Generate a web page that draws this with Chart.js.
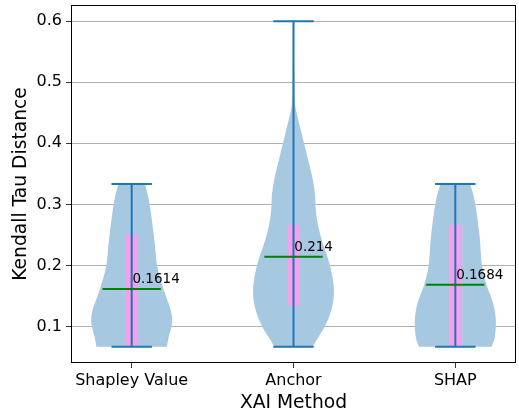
<!DOCTYPE html>
<html>
<head>
<meta charset="utf-8">
<script src="https://cdn.jsdelivr.net/npm/chart.js@4.4.1/dist/chart.umd.min.js"></script>
<style>
  html, body { margin:0; padding:0; background:#fff; }
  #wrap { width:519px; height:416px; }
</style>
</head>
<body>
<div id="wrap"><canvas id="chart" width="519" height="416"></canvas></div>
<script>
// ---- data ----
const categories = ["Shapley Value", "Anchor", "SHAP"];
const means = [0.1614, 0.214, 0.1684];
const mins = [0.0667, 0.0667, 0.0667];
const maxs = [0.3333, 0.6, 0.3333];
const q1s = [0.0667, 0.1333, 0.0667];
const q3s = [0.25, 0.2667, 0.2667];
const yTicks = [0.1, 0.2, 0.3, 0.4, 0.5, 0.6];

// kernel density profile (relative width) at each level
const shapleyLevels = [0.0667, 0.084, 0.106, 0.128, 0.160, 0.199, 0.248, 0.302, 0.3333];
const shapleyDens   = [0.87,   0.92,  1.0,   0.96,  0.79,  0.63,  0.55,  0.44,  0.33];
const anchorLevels = [0.0667, 0.0733, 0.1005, 0.128, 0.155, 0.182, 0.2095, 0.237, 0.264, 0.291, 0.318, 0.346, 0.373, 0.400, 0.427, 0.455, 0.475, 0.52, 0.6];
const anchorDens   = [0.47,   0.53,   0.78,   0.94,  1.0,   0.96,  0.86,   0.72,  0.61,  0.55,  0.53,  0.46,  0.36,  0.26,  0.16,  0.06,  0.03,  0.02, 0.015];
const shapLevels = [0.0667, 0.084, 0.1115, 0.139, 0.166, 0.199, 0.248, 0.302, 0.3333];
const shapDens   = [0.90,   0.98,  1.0,    0.93,  0.78,  0.66,  0.60,  0.49,  0.37];

const levels = [shapleyLevels, anchorLevels, shapLevels];
const dens = [shapleyDens, anchorDens, shapDens];

const BLUE = "#1f77b4";
const halfW = 0.25;   // violin half width (widths=0.5)
const capW = 0.125;
const meanW = 0.18;

// ---- datasets for lines ----
const datasets = [];
categories.forEach((c, i) => {
  const pos = i + 1;
  datasets.push({ data:[{x:pos-meanW,y:means[i]},{x:pos+meanW,y:means[i]}], borderColor:"#008000", borderWidth:2, order:0 });
  datasets.push({ data:[{x:pos,y:mins[i]},{x:pos,y:maxs[i]}], borderColor:BLUE, borderWidth:2, order:1 });
  datasets.push({ data:[{x:pos-capW,y:mins[i]},{x:pos+capW,y:mins[i]}], borderColor:BLUE, borderWidth:2, order:1 });
  datasets.push({ data:[{x:pos-capW,y:maxs[i]},{x:pos+capW,y:maxs[i]}], borderColor:BLUE, borderWidth:2, order:1 });
  datasets.push({ data:[{x:pos,y:q1s[i]},{x:pos,y:q3s[i]}], borderColor:"#f4a0ec", borderWidth:13, borderCapStyle:"butt", order:2 });
});

// violins drawn under the lines
function smoothSide(ctx, pts, moveFirst){
  if(moveFirst) ctx.moveTo(pts[0].x, pts[0].y); else ctx.lineTo(pts[0].x, pts[0].y);
  for(let i=0;i<pts.length-1;i++){
    const p0 = pts[i-1] || pts[i], p1 = pts[i], p2 = pts[i+1], p3 = pts[i+2] || pts[i+1];
    ctx.bezierCurveTo(p1.x+(p2.x-p0.x)/6, p1.y+(p2.y-p0.y)/6,
                      p2.x-(p3.x-p1.x)/6, p2.y-(p3.y-p1.y)/6, p2.x, p2.y);
  }
}
const violinPlugin = {
  id:"violins",
  beforeDatasetsDraw(chart){
    const {ctx, scales:{x, y}} = chart;
    ctx.save();
    ctx.fillStyle = "#a6c8e0";
    levels.forEach((lv, i) => {
      const pos = i + 1;
      const left = lv.map((v,k) => ({x:x.getPixelForValue(pos - dens[i][k]*halfW), y:y.getPixelForValue(v)}));
      const right = lv.map((v,k) => ({x:x.getPixelForValue(pos + dens[i][k]*halfW), y:y.getPixelForValue(v)})).reverse();
      ctx.beginPath();
      smoothSide(ctx, left, true);
      smoothSide(ctx, right, false);
      ctx.closePath();
      ctx.fill();
    });
    ctx.restore();
  },
  afterDatasetsDraw(chart){
    const {ctx, chartArea:a, scales:{x, y}} = chart;
    ctx.save();
    ctx.fillStyle = "#000";
    ctx.font = "13.5px 'DejaVu Sans'";
    ctx.textBaseline = "alphabetic";
    ctx.textAlign = "left";
    means.forEach((m, i) => {
      ctx.fillText(String(m), x.getPixelForValue(i + 1.005), y.getPixelForValue(m + 0.009));
    });
    ctx.strokeStyle = "#000";
    ctx.lineWidth = 1;
    ctx.strokeRect(Math.round(a.left)+0.5, Math.round(a.top)+0.5, Math.round(a.right-a.left)-1, Math.round(a.bottom-a.top)-1);
    ctx.restore();
  }
};

new Chart(document.getElementById("chart"), {
  type:"scatter",
  data:{ datasets },
  plugins:[violinPlugin],
  options:{
    responsive:false,
    animation:false,
    showLine:true,
    elements:{ point:{ radius:0, hoverRadius:0 }, line:{ tension:0 } },
    layout:{ padding:{ left:0, top:5, right:3, bottom:0 } },
    plugins:{ legend:{ display:false }, tooltip:{ enabled:false } },
    scales:{
      x:{
        type:"linear", min:0.625, max:3.375,
        afterBuildTicks: ax => { ax.ticks = categories.map((c,i) => ({value:i+1})); },
        afterFit: ax => { ax.height = 53; ax.paddingLeft = 0; ax.paddingRight = 0; },
        border:{ display:false },
        grid:{ drawOnChartArea:false, drawTicks:true, tickLength:5, tickColor:"#333" },
        ticks:{ callback: v => categories[v-1], font:{ family:"DejaVu Sans", size:16 }, color:"#000", padding:3, maxRotation:0 },
        title:{ display:true, text:"XAI Method", font:{ family:"DejaVu Sans", size:18.7 }, color:"#000", padding:{ top:0, bottom:2 } }
      },
      y:{
        type:"linear", min:0.04, max:0.6267,
        afterBuildTicks: ax => { ax.ticks = yTicks.map(v => ({value:v})); },
        afterFit: ax => { ax.width = 71; ax.paddingTop = 0; ax.paddingBottom = 0; },
        border:{ display:false },
        grid:{ color:"#b0b0b0", lineWidth:1, tickLength:5, tickColor:"#333" },
        ticks:{ callback: v => v.toFixed(1), font:{ family:"DejaVu Sans", size:16 }, color:"#000", padding:4 },
        title:{ display:true, text:"Kendall Tau Distance", font:{ family:"DejaVu Sans", size:18.7 }, color:"#000", padding:{ top:10, bottom:0 } }
      }
    }
  }
});
</script>
</body>
</html>
